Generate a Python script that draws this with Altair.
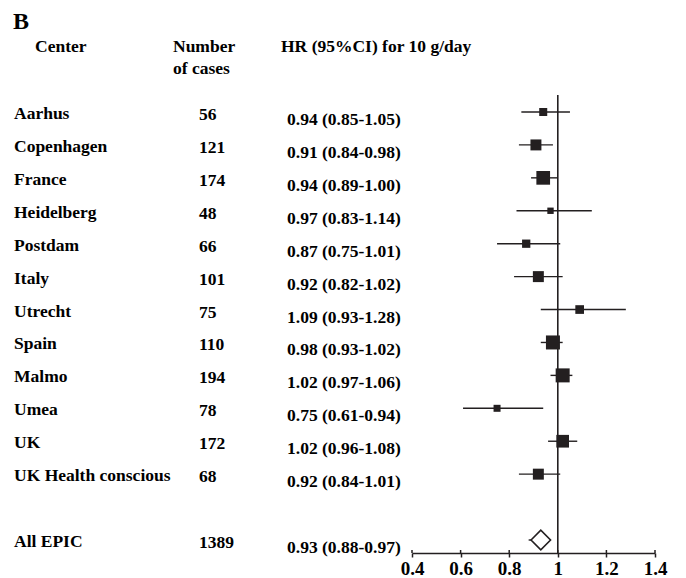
import altair as alt
import pandas as pd

# ---- data ----
centers = ["Aarhus", "Copenhagen", "France", "Heidelberg", "Postdam", "Italy",
           "Utrecht", "Spain", "Malmo", "Umea", "UK", "UK Health conscious"]
cases = [56, 121, 174, 48, 66, 101, 75, 110, 194, 78, 172, 68]
hr = [0.94, 0.91, 0.94, 0.97, 0.87, 0.92, 1.09, 0.98, 1.02, 0.75, 1.02, 0.92]
lo = [0.85, 0.84, 0.89, 0.83, 0.75, 0.82, 0.93, 0.93, 0.97, 0.61, 0.96, 0.84]
hi = [1.05, 0.98, 1.00, 1.14, 1.01, 1.02, 1.28, 1.02, 1.06, 0.94, 1.08, 1.01]
weights = [4.6, 8.6, 13.4, 2.9, 4.9, 8.6, 5.4, 14.0, 14.0, 3.5, 11.5, 8.6]

pooled_name = "All EPIC"
pooled_cases = 1389
pooled_hr, pooled_lo, pooled_hi = 0.93, 0.88, 0.97

x_ticks = [0.4, 0.6, 0.8, 1.0, 1.2, 1.4]

FONT = "Liberation Serif"
INK = "#231f20"
FS = 17.5

rows = list(range(len(centers)))
df = pd.DataFrame({
    "center": centers, "cases": [str(c) for c in cases], "hr": hr, "lo": lo, "hi": hi,
    "w": weights, "row": rows,
    "label": [f"{a:.2f} ({b:.2f}-{c:.2f})" for a, b, c in zip(hr, lo, hi)],
})
pooled = pd.DataFrame({
    "center": [pooled_name], "cases": [str(pooled_cases)], "hr": [pooled_hr],
    "lo": [pooled_lo], "hi": [pooled_hi], "row": [13],
    "label": [f"{pooled_hr:.2f} ({pooled_lo:.2f}-{pooled_hi:.2f})"],
})
all_rows = pd.concat([df, pooled], ignore_index=True)

xs = alt.Scale(domain=[0.4, 1.4], range=[404, 647])
ys = alt.Scale(domain=[0, 13], range=[104, 532])
Y = alt.Y("row:Q", scale=ys, axis=None)

ci = alt.Chart(df).mark_rule(color=INK, strokeWidth=1.4).encode(
    x=alt.X("lo:Q", scale=xs, title=None,
            axis=alt.Axis(values=x_ticks, format="~g", grid=False, title=None,
                          labelFlush=False, labelOverlap=False)),
    x2="hi:Q", y=Y)

squares = alt.Chart(df).mark_square(color=INK, opacity=1, filled=True).encode(
    x=alt.X("hr:Q", scale=xs), y=Y,
    size=alt.Size("w:Q", scale=alt.Scale(domain=[0, 14], range=[0, 196]), legend=None))

refline = alt.Chart(pd.DataFrame({"v": [1.0]})).mark_rule(color=INK, strokeWidth=1.6).encode(
    x=alt.X("v:Q", scale=xs), y=alt.value(87), y2=alt.value(545))

pooled_ci = alt.Chart(pooled).mark_rule(color=INK, strokeWidth=1.4).encode(
    x=alt.X("lo:Q", scale=xs), x2="hi:Q", y=Y)

diamond = alt.Chart(pooled).mark_point(shape="diamond", filled=True, fill="white",
                                       stroke=INK, strokeWidth=1.6, size=380, opacity=1).encode(
    x=alt.X("hr:Q", scale=xs), y=Y)

tick_up = alt.Chart(pd.DataFrame({"t": x_ticks})).mark_rule(color=INK, strokeWidth=1.5).encode(
    x=alt.X("t:Q", scale=xs), y=alt.value(542), y2=alt.value(545))

txt = dict(font=FONT, fontWeight="bold", fontSize=FS, color="black", align="left",
           baseline="alphabetic")

names = alt.Chart(all_rows).mark_text(dy=7, **txt).encode(
    x=alt.value(6), y=Y, text="center:N")
ncases = alt.Chart(all_rows).mark_text(dy=8, **txt).encode(
    x=alt.value(191), y=Y, text="cases:N")
hrtext = alt.Chart(all_rows).mark_text(dy=13, **txt).encode(
    x=alt.value(279), y=Y, text="label:N")

headers = [
    ("B", 5, 21, 24),
    ("Center", 27, 44, FS),
    ("Number", 165, 44, FS),
    ("of cases", 165, 66, FS),
    ("HR (95%CI) for 10 g/day", 273, 44, FS),
]
head_layers = []
for t, hx, hy, fs in headers:
    head_layers.append(
        alt.Chart(pd.DataFrame({"t": [t]})).mark_text(
            font=FONT, fontWeight="bold", fontSize=fs, color="black",
            align="left", baseline="alphabetic").encode(
            x=alt.value(hx), y=alt.value(hy), text="t:N"))

chart = alt.layer(ci, refline, squares, pooled_ci, diamond, tick_up,
                  names, ncases, hrtext, *head_layers).properties(
    width=670, height=545,
    autosize=alt.AutoSizeParams(type="none"),
    padding={"left": 0, "top": 0, "right": 0, "bottom": 25},
).configure_view(stroke=None).configure_axis(
    domainColor=INK, domainWidth=1.5, tickColor=INK, tickWidth=1.5, tickSize=4,
    labelFont=FONT, labelFontWeight="bold", labelFontSize=19, labelColor="black",
    labelPadding=2,
)

chart.save("out.html", embed_options={"renderer": "svg", "actions": False})
